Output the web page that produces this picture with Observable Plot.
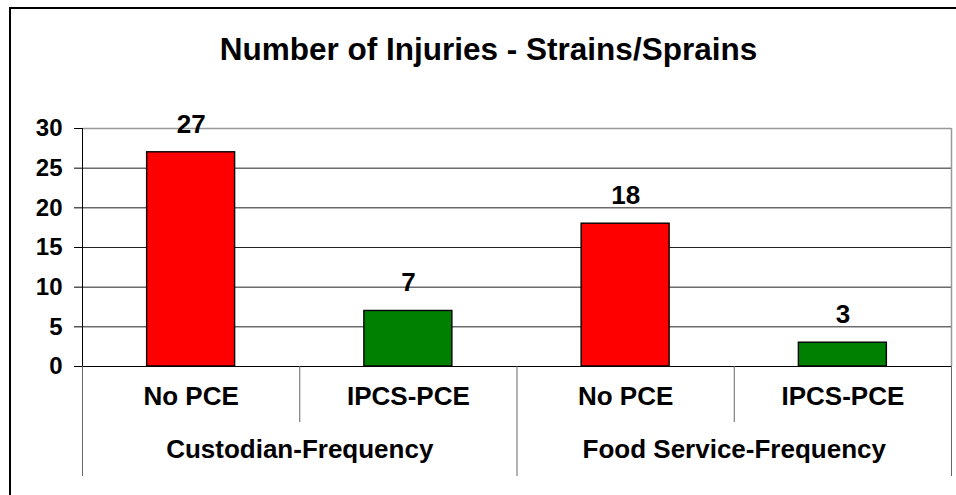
<!DOCTYPE html>
<html>
<head>
<meta charset="utf-8">
<script src="https://cdn.jsdelivr.net/npm/d3@7"></script>
<script src="https://cdn.jsdelivr.net/npm/@observablehq/plot@0.6"></script>
<style>
  html, body { margin: 0; padding: 0; background: #fff; overflow: hidden; }
  body { width: 956px; height: 495px; position: relative; font-family: "Liberation Sans", Arial, sans-serif; }
  #frame { position: absolute; left: 9px; top: 7px; width: 1200px; height: 800px; border: 2px solid #000; box-sizing: border-box; pointer-events: none; }
  #title { position: absolute; left: 0; width: 977px; top: 31px; text-align: center; font-weight: bold; font-size: 31.5px; line-height: normal; color: #000; }
  #chart { position: absolute; left: 0; top: 0; }
</style>
</head>
<body>
<div id="chart"></div>
<div id="frame"></div>
<div id="title">Number of Injuries - Strains/Sprains</div>
<script>
const groups = ["Custodian-Frequency", "Food Service-Frequency"];
const conditions = ["No PCE", "IPCS-PCE", "No PCE", "IPCS-PCE"];
const values = [27, 7, 18, 3];
const barColors = ["#FF0000", "#008000", "#FF0000", "#008000"];
const yTicks = [0, 5, 10, 15, 20, 25, 30];

const rows = values.map((v, i) => ({i, value: v, condition: conditions[i], color: barColors[i]}));
const groupRows = groups.map((g, j) => ({j, name: g}));
const half = 0.2025; // half bar width as fraction of category

const font = "Liberation Sans, Arial, sans-serif";

const chart = Plot.plot({
  width: 956,
  height: 495,
  marginLeft: 82,
  marginRight: 5,
  marginTop: 128,
  marginBottom: 129,
  style: {fontFamily: font, background: "transparent", color: "#000"},
  x: {type: "linear", domain: [0, conditions.length], axis: null},
  y: {domain: [0, 30], axis: null},
  marks: [
    Plot.ruleY(yTicks.filter(t => t > 0 && t < 30), {stroke: "#222", strokeWidth: 1}),
    Plot.ruleY([30], {stroke: "#999", strokeWidth: 1.5}),
    Plot.ruleX([conditions.length], {stroke: "#999", strokeWidth: 1.5}),
    Plot.rectY(rows, {
      x1: d => d.i + 0.5 - half,
      x2: d => d.i + 0.5 + half,
      y1: 0,
      y2: "value",
      fill: "color",
      stroke: "#000",
      strokeWidth: 1.4
    }),
    Plot.ruleX([0], {stroke: "#000", strokeWidth: 1}),
    Plot.ruleY([0], {stroke: "#000", strokeWidth: 1.2}),
    Plot.axisY(yTicks, {
      anchor: "left",
      label: null,
      tickSize: 8,
      tickPadding: 12,
      fontSize: 24,
      fontWeight: "bold",
      fontFamily: font,
      stroke: "#000"
    }),
    Plot.axisX(d3.range(1, conditions.length, 2), {
      anchor: "bottom",
      label: null,
      tickSize: 56,
      tickFormat: () => "",
      stroke: "#666"
    }),
    Plot.axisX(d3.range(0, conditions.length + 1, 2), {
      anchor: "bottom",
      label: null,
      tickSize: 110,
      tickFormat: () => "",
      stroke: "#666"
    }),
    Plot.text(rows, {
      x: d => d.i + 0.5,
      y: "value",
      text: d => String(d.value),
      dy: -28,
      fontSize: 26,
      fontWeight: "bold",
      fill: "#000"
    }),
    Plot.text(rows, {
      x: d => d.i + 0.5,
      frameAnchor: "bottom",
      text: "condition",
      dy: 38,
      fontSize: 26,
      fontWeight: "bold",
      fill: "#000"
    }),
    Plot.text(groupRows, {
      x: d => d.j * 2 + 1,
      frameAnchor: "bottom",
      text: "name",
      dy: 91,
      fontSize: 26,
      fontWeight: "bold",
      fill: "#000"
    })
  ]
});
document.getElementById("chart").appendChild(chart);
</script>
</body>
</html>
